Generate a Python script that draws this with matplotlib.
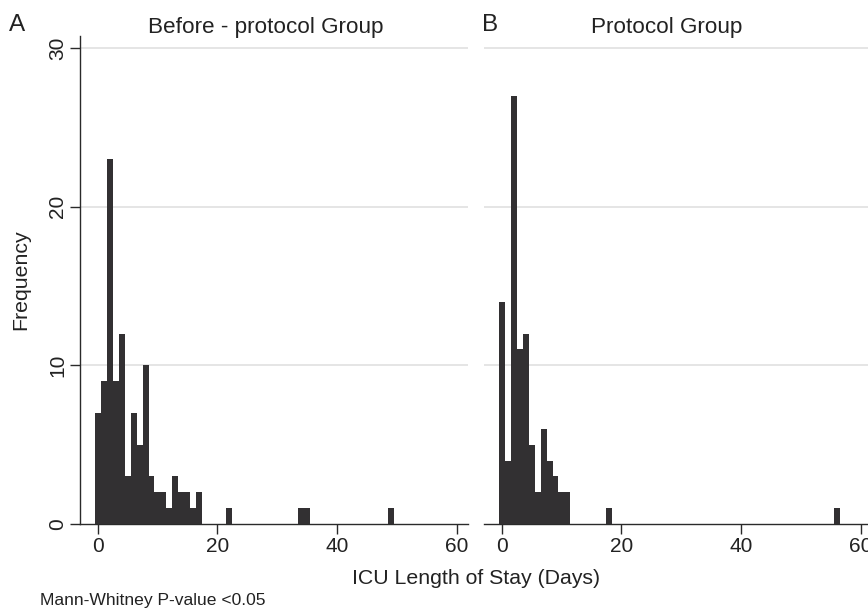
"""ICU length of stay histograms, before-protocol vs protocol group."""

import matplotlib

matplotlib.use("Agg")  # Non-interactive backend
import matplotlib.pyplot as plt

plt.rcParams["font.family"] = ["Liberation Sans", "DejaVu Sans"]

# Day bins (1-day wide, centred on the day) and patient counts
before_days = [0, 1, 2, 3, 4, 5, 6, 7, 8, 9, 10, 11, 12, 13, 14, 15, 16, 17, 22, 34, 35, 49]
before_counts = [7, 9, 23, 9, 12, 3, 7, 5, 10, 3, 2, 2, 1, 3, 2, 2, 1, 2, 1, 1, 1, 1]

protocol_days = [0, 1, 2, 3, 4, 5, 6, 7, 8, 9, 10, 11, 18, 56]
protocol_counts = [14, 4, 27, 11, 12, 5, 2, 6, 4, 3, 2, 2, 1, 1]

x_ticks = [0, 20, 40, 60]
y_ticks = [0, 10, 20, 30]

panel_titles = ["Before - protocol Group", "Protocol Group"]
panel_letters = ["A", "B"]

BAR_COLOR = "#323032"
AXIS_COLOR = "#2a2a2a"
TEXT_COLOR = "#222222"
GRID_COLOR = "#dedede"
TICK_SIZE = 15

W, H = 868, 611
fig = plt.figure(figsize=(W / 100, H / 100), dpi=100)
ax_a = fig.add_axes([80 / W, 87 / H, 388 / W, 488 / H])
ax_b = fig.add_axes([484 / W, 87 / H, 388 / W, 488 / H])

panels = [
    (ax_a, before_days, before_counts),
    (ax_b, protocol_days, protocol_counts),
]
title_x = [266, 667]
letter_x = [9, 482]

for i, (ax, days, counts) in enumerate(panels):
    ax.bar(days, counts, width=1.0, color=BAR_COLOR, linewidth=0, zorder=3)

    ax.set_xlim(-2.95, 61.9)
    ax.set_ylim(0, 30.75)
    ax.set_xticks(x_ticks)
    ax.set_yticks(y_ticks)

    # Horizontal grid only
    for y in y_ticks[1:]:
        ax.axhline(y, color=GRID_COLOR, linewidth=1.1, zorder=1)

    for side in ["top", "right"]:
        ax.spines[side].set_visible(False)
    ax.spines["bottom"].set_color(AXIS_COLOR)
    ax.spines["bottom"].set_linewidth(1.0)

    ax.tick_params(axis="x", direction="out", length=7, width=1.0,
                   color=AXIS_COLOR, labelsize=TICK_SIZE, pad=2, labelcolor=TEXT_COLOR)

    if i == 0:
        ax.spines["left"].set_color(AXIS_COLOR)
        ax.spines["left"].set_linewidth(1.0)
        ax.tick_params(axis="y", direction="out", length=7, width=1.0,
                       color=AXIS_COLOR, labelsize=TICK_SIZE, pad=2, labelcolor=TEXT_COLOR)
        for label in ax.get_yticklabels():
            label.set_rotation(90)
            label.set_va("center")
        ax.set_ylabel("Frequency", fontsize=15.3, color=TEXT_COLOR)
        ax.yaxis.set_label_coords((30 - 80) / 388, 0.5)
    else:
        ax.spines["left"].set_visible(False)
        ax.tick_params(axis="y", left=False, labelleft=False)

    fig.text(title_x[i] / W, 1 - 27 / H, panel_titles[i], fontsize=16.2,
             ha="center", va="center", color=TEXT_COLOR)
    fig.text(letter_x[i] / W, 1 - 25 / H, panel_letters[i], fontsize=17.5,
             ha="left", va="center", color=TEXT_COLOR)

# Shared x label and footnote
fig.text(476 / W, 1 - 578 / H, "ICU Length of Stay (Days)", fontsize=15.3,
         ha="center", va="center", color=TEXT_COLOR)
fig.text(40 / W, 1 - 601 / H, "Mann-Whitney P-value <0.05", fontsize=12.6,
         ha="left", va="center", color=TEXT_COLOR)

fig.savefig("out.png", dpi=100)
plt.close(fig)
